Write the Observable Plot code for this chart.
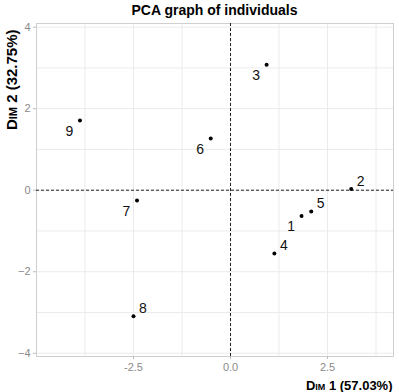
<!DOCTYPE html>
<html>
<head>
<meta charset="utf-8">
<script src="https://cdn.jsdelivr.net/npm/d3@7"></script>
<script src="https://cdn.jsdelivr.net/npm/@observablehq/plot@0.6"></script>
<style>
  body { margin: 0; background: #fff; font-family: "Liberation Sans", Arial, sans-serif; }
  #title { height: 20px; width: 399px; position: relative; }
  #title span { position: absolute; left: 36px; width: 357px; text-align: center; top: 2px;
    font-weight: bold; font-size: 14px; color: #000; }
  .axtitle { font-variant: small-caps; }
</style>
</head>
<body>
<div id="title"><span>PCA graph of individuals</span></div>
<div id="chart"></div>
<script>
const ids  = ["1", "2", "3", "4", "5", "6", "7", "8", "9"];
const dim1 = [1.83, 3.11, 0.93, 1.13, 2.08, -0.51, -2.41, -2.50, -3.88];
const dim2 = [-0.63, 0.03, 3.08, -1.55, -0.52, 1.27, -0.25, -3.09, 1.71];
const upperRightLabels = ["2", "4", "5", "8"];
const xTicks = [-2.5, 0, 2.5];
const xTickLabels = ["-2.5", "0.0", "2.5"];
const yTicks = [-4, -2, 0, 2, 4];
const xGrid = [-3.75, -2.5, -1.25, 0, 1.25, 2.5, 3.75];
const yGrid = [-4, -3, -2, -1, 0, 1, 2, 3, 4];
const xTitle = "Dim 1 (57.03%)";
const yTitle = "Dim 2 (32.75%)";

const data = ids.map((id, i) => ({id, x: dim1[i], y: dim2[i], ur: upperRightLabels.includes(id)}));

const chart = Plot.plot({
  width: 399,
  height: 372,
  marginTop: 3,
  marginBottom: 36,
  marginLeft: 36,
  marginRight: 6,
  style: {fontFamily: "Liberation Sans, Arial, sans-serif", background: "#fff"},
  x: {domain: [-5.0, 4.2], ticks: xTicks, tickFormat: (d) => xTickLabels[xTicks.indexOf(d)], tickSize: 3, tickPadding: 4, label: null},
  y: {domain: [-4.08, 4.09], ticks: yTicks, tickSize: 3, tickPadding: 3, label: null},
  marks: [
    Plot.gridX(xGrid, {stroke: "#ebebeb", strokeOpacity: 1, strokeWidth: 1}),
    Plot.gridY(yGrid, {stroke: "#ebebeb", strokeOpacity: 1, strokeWidth: 1}),
    Plot.frame({stroke: "#cfcfcf", strokeWidth: 1}),
    Plot.ruleX([0], {stroke: "#222", strokeDasharray: "3,2", strokeWidth: 1}),
    Plot.ruleY([0], {stroke: "#222", strokeDasharray: "3,2", strokeWidth: 1}),
    Plot.dot(data, {x: "x", y: "y", r: 2, fill: "#000", stroke: null}),
    Plot.text(data.filter(d => !d.ur), {x: "x", y: "y", text: "id", dx: -10.5, dy: 11, fontSize: 14, fill: "#111"}),
    Plot.text(data.filter(d => d.ur), {x: "x", y: "y", text: "id", dx: 9.5, dy: -7.5, fontSize: 14, fill: "#111"}),
    Plot.axisX({ticks: xTicks, tickFormat: (d) => xTickLabels[xTicks.indexOf(d)], tickSize: 3, tickPadding: 4, stroke: "#bbb", color: "#8a8a8a", fontSize: 11, label: null}),
    Plot.axisY({ticks: yTicks, tickSize: 3, tickPadding: 3, stroke: "#bbb", color: "#8a8a8a", fontSize: 11, label: null}),
    Plot.text([xTitle], {frameAnchor: "bottom-right", textAnchor: "end", lineAnchor: "bottom", dy: 33, dx: -1, fontSize: 13, fontWeight: "bold", fill: "#000", className: "axtitle"}),
    Plot.text([yTitle], {frameAnchor: "top-left", textAnchor: "end", lineAnchor: "middle", rotate: -90, dx: -24, dy: 6, fontSize: 15, fontWeight: "bold", fill: "#000", className: "axtitle"})
  ]
});
document.getElementById("chart").appendChild(chart);
</script>
</body>
</html>
